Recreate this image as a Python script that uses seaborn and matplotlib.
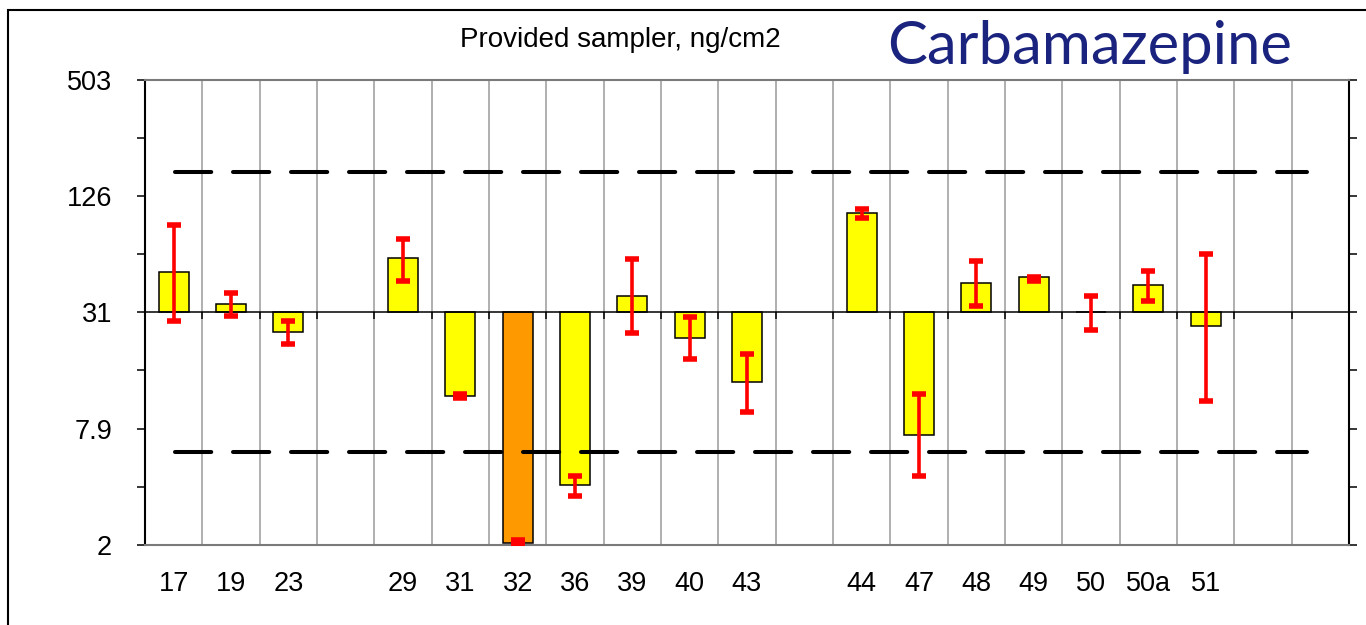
import numpy as np
import pandas as pd
import matplotlib
matplotlib.use("Agg")
import matplotlib.pyplot as plt
import seaborn as sns
from matplotlib.patches import Rectangle

# ---------------- data ----------------
columns = ["17", "19", "23", "", "29", "31", "32", "36", "39", "40", "43", "",
           "44", "47", "48", "49", "50", "50a", "51", "", ""]
labs = ["17", "19", "23", "29", "31", "32", "36", "39", "40", "43",
        "44", "47", "48", "49", "50", "50a", "51"]
values = [50.6, 34.7, 24.9, 59.8, 11.6, 2.01, 4.01, 37.9, 23.0, 13.7,
          102.7, 7.31, 44.7, 47.7, 31.4, 43.7, 26.6]
err_low = [28.2, 30.1, 21.5, 45.4, 11.3, 1.99, 3.53, 24.4, 17.9, 9.6,
           96.7, 4.45, 34.0, 45.8, 25.5, 35.7, 10.9]
err_high = [89.0, 39.6, 28.4, 75.3, 11.8, 2.09, 4.45, 58.9, 29.6, 19.1,
            107.7, 11.8, 57.5, 47.6, 37.9, 51.6, 62.5]
kind = ["ok"] * 5 + ["outlier"] + ["ok"] * 11
assigned_value = 31.4
limit_low, limit_high = 5.92, 166.6
y_tick_values = [1.9625, 7.85, 31.4, 125.6, 502.4]
y_tick_labels = ["2", "7.9", "31", "126", "503"]
title_text = "Provided sampler, ng/cm2"
compound = "Carbamazepine"

# ---------------- style ----------------
sns.set_theme(style="white")
plt.rcParams["font.family"] = ["Liberation Sans", "DejaVu Sans"]

W, H = 1366, 625
fig = plt.figure(figsize=(W / 100, H / 100), dpi=100)
ax = fig.add_axes([145 / W, 80 / H, 1204 / W, 465.5 / H])

slots = [columns.index(l) for l in labs]
df = pd.DataFrame({
    "slot": slots,
    "height": np.array(values) - assigned_value,
    "kind": kind,
})

sns.barplot(data=df, x="slot", y="height", hue="kind",
            palette={"ok": "#FFFF00", "outlier": "#FF9900"}, saturation=1,
            order=list(range(len(columns))), width=0.52, dodge=False,
            bottom=assigned_value, edgecolor="black", linewidth=1.1,
            errorbar=None, legend=False, ax=ax, zorder=3)

ax.set_yscale("log")
ax.set_ylim(y_tick_values[0], y_tick_values[-1])
ax.set_xlim(-0.5, len(columns) - 0.5)

lo = np.array(err_low)
hi = np.array(err_high)
mid = (lo + hi) / 2
ax.errorbar(x=slots, y=mid, yerr=[mid - lo, hi - mid], fmt="none",
            ecolor="#FF0000", elinewidth=2.6, capsize=4.8, capthick=4.0,
            zorder=6)

# limits (dashed)
for lim in (limit_low, limit_high):
    ax.axhline(lim, xmin=30 / 1204, xmax=1162 / 1204, color="black", lw=2.9,
               linestyle=(0, (9.0, 5.4)), dash_capstyle="round", zorder=5)

# centre line + ticks at column boundaries
ax.axhline(assigned_value, color="black", lw=1.1, zorder=4)
boundaries = np.arange(len(columns) - 1) + 0.5
ax.plot(boundaries, [assigned_value] * len(boundaries), ls="none", marker=3,
        ms=5, mew=1.1, color="black", zorder=4)

# vertical grid
ax.set_xticks(boundaries, minor=True)
ax.grid(which="minor", axis="x", color="#9a9a9a", lw=1.1)
ax.grid(which="major", axis="both", visible=False)
ax.set_axisbelow(True)

ax.set_xticks(range(len(columns)), columns)
ax.tick_params(axis="x", which="both", length=0, pad=19, labelsize=19.5,
               colors="black")
ax.set_xlabel("")
ax.set_ylabel("")

ax.set_yticks(y_tick_values, y_tick_labels)
minor_vals = np.sqrt(np.array(y_tick_values[:-1]) * np.array(y_tick_values[1:]))
ax.set_yticks(minor_vals, minor=True)
ax.yaxis.set_minor_formatter(matplotlib.ticker.NullFormatter())
ax.tick_params(axis="y", which="both", left=True, right=True, direction="out",
               length=5.8, width=1.1, color="black")
ax.tick_params(axis="y", which="major", pad=18, labelsize=19.5,
               labelcolor="black")

for s in ("left", "right"):
    ax.spines[s].set_color("black")
    ax.spines[s].set_linewidth(1.5)
for s in ("top", "bottom"):
    ax.spines[s].set_color("#7a7a7a")
    ax.spines[s].set_linewidth(1.5)

fig.text(620 / W, 1 - 47 / H, title_text, ha="center", va="baseline",
         fontsize=20, color="black")
fig.text(887 / W, 1 - 64 / H, compound, ha="left", va="baseline",
         fontsize=43, color="#1a237e", family=["Lato", "DejaVu Sans"])

fig.add_artist(Rectangle((8 / W, -0.05), 1.1, 1 - 10 / H + 0.05,
                         transform=fig.transFigure, fill=False, lw=1.5,
                         ec="black"))

fig.savefig("out.png", dpi=100)
